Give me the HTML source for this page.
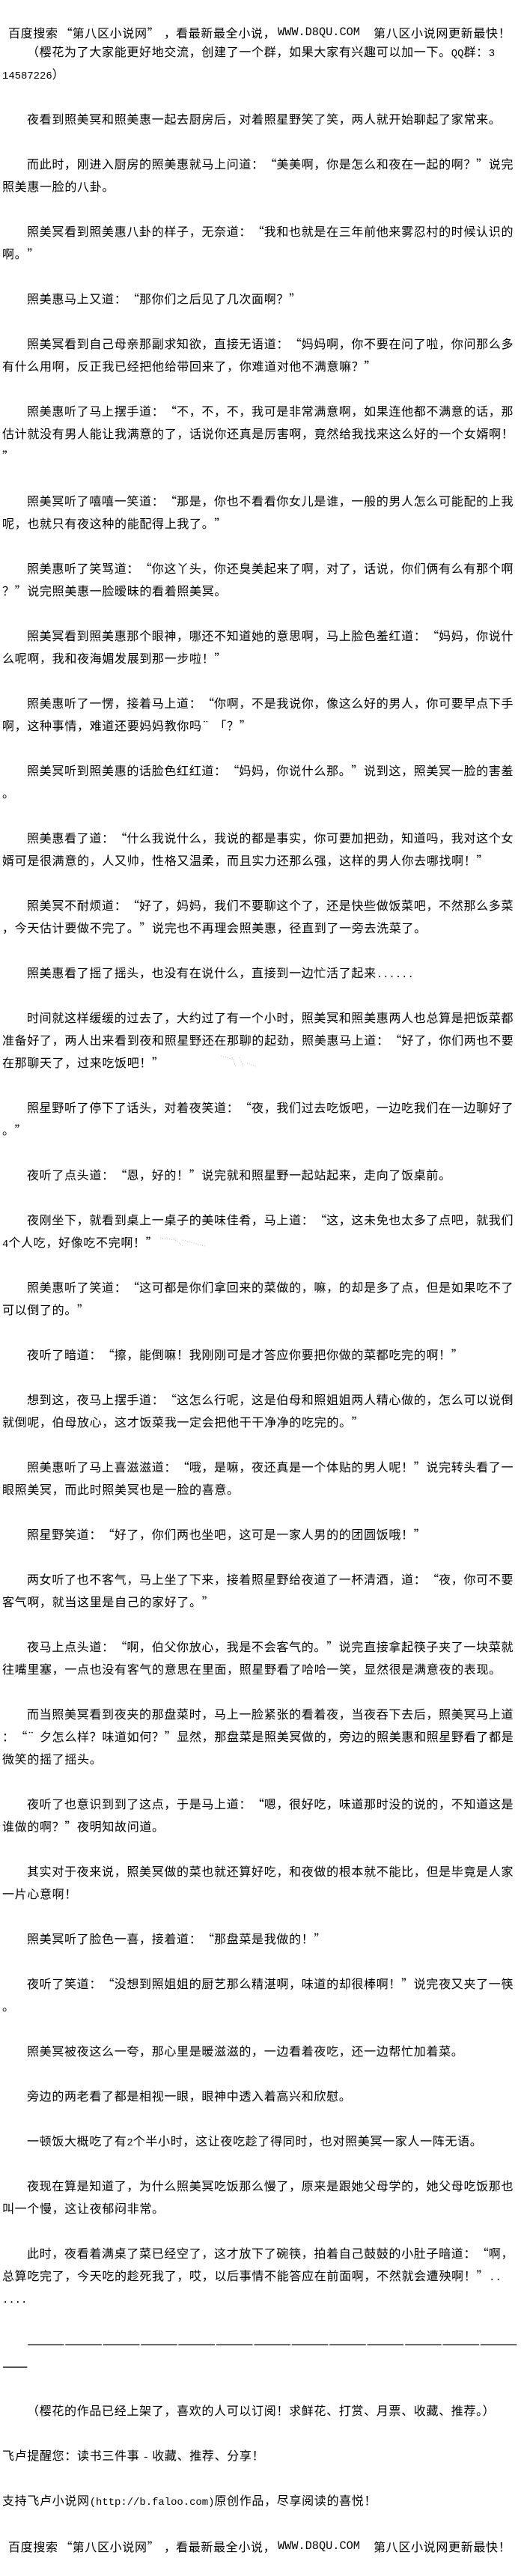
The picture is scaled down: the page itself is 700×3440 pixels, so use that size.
<!DOCTYPE html>
<html lang="zh-CN"><head><meta charset="utf-8"><title>page</title>
<style>
html,body{margin:0;padding:0;background:#fff}
body{position:relative;width:700px;height:3440px;overflow:hidden;color:#000;font-family:"WenQuanYi Zen Hei","Noto Sans CJK SC",sans-serif;font-size:16px;letter-spacing:.67px}
div{position:absolute;left:3px;height:30px;line-height:30px;white-space:pre}
div.i{left:36px}
b{font-weight:normal;font-family:"Liberation Mono",monospace;font-size:13.9px;letter-spacing:0}
i,em{font-style:normal;display:inline-block;width:16.67px;letter-spacing:0}
i{text-align:right}
em{text-align:left}
span{position:absolute;top:0}
svg{position:absolute;left:0;top:0}
.d{font-size:20.5px;letter-spacing:0;line-height:30px}
</style></head><body>
<svg width="700" height="3440"><g stroke="#b8b8b8" stroke-width="1" stroke-dasharray="1 2" fill="none"><path d="M262 1395h26M263 1391h24M295 1410l18 5M310 1412l5 13M320 1412l5 13M330 1420l12 4M214 1653l20 3M232 1654l12 10M244 1656l30 8M353 1713l40 10M355 1722l38 3M440 1475l28 6"/></g></svg>
<div style="top:28px;left:0;width:700px"><span style="left:11px">百度搜索</span><span style="left:80px"><i>“</i>第八区小说网<em>”</em></span><span style="left:219px">，</span><span style="left:235px">看最新最全小说，</span><span style="left:371px;font-family:'Liberation Mono',monospace;font-size:15.27px;letter-spacing:0">WWW.D8QU.COM</span><span style="left:499px">第八区小说网更新最快！</span></div>
<div style="top:53px;left:36px">（樱花为了大家能更好地交流，创建了一个群，如果大家有兴趣可以加一下。<b>QQ</b>群：<b>3</b></div>
<div style="top:83px"><b>14587226</b>）</div>
<div class="i" style="top:143px">夜看到照美冥和照美惠一起去厨房后，对着照星野笑了笑，两人就开始聊起了家常来。</div>
<div class="i" style="top:203px">而此时，刚进入厨房的照美惠就马上问道：<i>“</i>美美啊，你是怎么和夜在一起的啊？<em>”</em>说完</div>
<div style="top:233px">照美惠一脸的八卦。</div>
<div class="i" style="top:293px">照美冥看到照美惠八卦的样子，无奈道：<i>“</i>我和也就是在三年前他来雾忍村的时候认识的</div>
<div style="top:323px">啊。<em>”</em></div>
<div class="i" style="top:383px">照美惠马上又道：<i>“</i>那你们之后见了几次面啊？<em>”</em></div>
<div class="i" style="top:443px">照美冥看到自己母亲那副求知欲，直接无语道：<i>“</i>妈妈啊，你不要在问了啦，你问那么多</div>
<div style="top:473px">有什么用啊，反正我已经把他给带回来了，你难道对他不满意嘛？<em>”</em></div>
<div class="i" style="top:533px">照美惠听了马上摆手道：<i>“</i>不，不，不，我可是非常满意啊，如果连他都不满意的话，那</div>
<div style="top:563px">估计就没有男人能让我满意的了，话说你还真是厉害啊，竟然给我找来这么好的一个女婿啊！</div>
<div style="top:593px"><em>”</em></div>
<div class="i" style="top:653px">照美冥听了嘻嘻一笑道：<i>“</i>那是，你也不看看你女儿是谁，一般的男人怎么可能配的上我</div>
<div style="top:683px">呢，也就只有夜这种的能配得上我了。<em>”</em></div>
<div class="i" style="top:743px">照美惠听了笑骂道：<i>“</i>你这丫头，你还臭美起来了啊，对了，话说，你们俩有么有那个啊</div>
<div style="top:773px">？<em>”</em>说完照美惠一脸暧昧的看着照美冥。</div>
<div class="i" style="top:833px">照美冥看到照美惠那个眼神，哪还不知道她的意思啊，马上脸色羞红道：<i>“</i>妈妈，你说什</div>
<div style="top:863px">么呢啊，我和夜海媚发展到那一步啦！<em>”</em></div>
<div class="i" style="top:923px">照美惠听了一愣，接着马上道：<i>“</i>你啊，不是我说你，像这么好的男人，你可要早点下手</div>
<div style="top:953px">啊，这种事情，难道还要妈妈教你吗<em>¨</em>「？<em>”</em></div>
<div class="i" style="top:1013px">照美冥听到照美惠的话脸色红红道：<i>“</i>妈妈，你说什么那。<em>”</em>说到这，照美冥一脸的害羞</div>
<div style="top:1043px">。</div>
<div class="i" style="top:1103px">照美惠看了道：<i>“</i>什么我说什么，我说的都是事实，你可要加把劲，知道吗，我对这个女</div>
<div style="top:1133px">婿可是很满意的，人又帅，性格又温柔，而且实力还那么强，这样的男人你去哪找啊！<em>”</em></div>
<div class="i" style="top:1193px">照美冥不耐烦道：<i>“</i>好了，妈妈，我们不要聊这个了，还是快些做饭菜吧，不然那么多菜</div>
<div style="top:1223px">，今天估计要做不完了。<em>”</em>说完也不再理会照美惠，径直到了一旁去洗菜了。</div>
<div class="i" style="top:1283px">照美惠看了摇了摇头，也没有在说什么，直接到一边忙活了起来<b>......</b></div>
<div class="i" style="top:1343px">时间就这样缓缓的过去了，大约过了有一个小时，照美冥和照美惠两人也总算是把饭菜都</div>
<div style="top:1373px">准备好了，两人出来看到夜和照星野还在那聊的起劲，照美惠马上道：<i>“</i>好了，你们两也不要</div>
<div style="top:1403px">在那聊天了，过来吃饭吧！<em>”</em></div>
<div class="i" style="top:1463px">照星野听了停下了话头，对着夜笑道：<i>“</i>夜，我们过去吃饭吧，一边吃我们在一边聊好了</div>
<div style="top:1493px">。<em>”</em></div>
<div class="i" style="top:1553px">夜听了点头道：<i>“</i>恩，好的！<em>”</em>说完就和照星野一起站起来，走向了饭桌前。</div>
<div class="i" style="top:1613px">夜刚坐下，就看到桌上一桌子的美味佳肴，马上道：<i>“</i>这，这未免也太多了点吧，就我们</div>
<div style="top:1643px"><b>4</b>个人吃，好像吃不完啊！<em>”</em></div>
<div class="i" style="top:1703px">照美惠听了笑道：<i>“</i>这可都是你们拿回来的菜做的，嘛，的却是多了点，但是如果吃不了</div>
<div style="top:1733px">可以倒了的。<em>”</em></div>
<div class="i" style="top:1793px">夜听了暗道：<i>“</i>擦，能倒嘛！我刚刚可是才答应你要把你做的菜都吃完的啊！<em>”</em></div>
<div class="i" style="top:1853px">想到这，夜马上摆手道：<i>“</i>这怎么行呢，这是伯母和照姐姐两人精心做的，怎么可以说倒</div>
<div style="top:1883px">就倒呢，伯母放心，这才饭菜我一定会把他干干净净的吃完的。<em>”</em></div>
<div class="i" style="top:1943px">照美惠听了马上喜滋滋道：<i>“</i>哦，是嘛，夜还真是一个体贴的男人呢！<em>”</em>说完转头看了一</div>
<div style="top:1973px">眼照美冥，而此时照美冥也是一脸的喜意。</div>
<div class="i" style="top:2033px">照星野笑道：<i>“</i>好了，你们两也坐吧，这可是一家人男的的团圆饭哦！<em>”</em></div>
<div class="i" style="top:2093px">两女听了也不客气，马上坐了下来，接着照星野给夜道了一杯清酒，道：<i>“</i>夜，你可不要</div>
<div style="top:2123px">客气啊，就当这里是自己的家好了。<em>”</em></div>
<div class="i" style="top:2183px">夜马上点头道：<i>“</i>啊，伯父你放心，我是不会客气的。<em>”</em>说完直接拿起筷子夹了一块菜就</div>
<div style="top:2213px">往嘴里塞，一点也没有客气的意思在里面，照星野看了哈哈一笑，显然很是满意夜的表现。</div>
<div class="i" style="top:2273px">而当照美冥看到夜夹的那盘菜时，马上一脸紧张的看着夜，当夜吞下去后，照美冥马上道</div>
<div style="top:2303px">：<i>“</i><em>¨</em>夕怎么样？味道如何？<em>”</em>显然，那盘菜是照美冥做的，旁边的照美惠和照星野看了都是</div>
<div style="top:2333px">微笑的摇了摇头。</div>
<div class="i" style="top:2393px">夜听了也意识到到了这点，于是马上道：<i>“</i>嗯，很好吃，味道那时没的说的，不知道这是</div>
<div style="top:2423px">谁做的啊？<em>”</em>夜明知故问道。</div>
<div class="i" style="top:2483px">其实对于夜来说，照美冥做的菜也就还算好吃，和夜做的根本就不能比，但是毕竟是人家</div>
<div style="top:2513px">一片心意啊！</div>
<div class="i" style="top:2573px">照美冥听了脸色一喜，接着道：<i>“</i>那盘菜是我做的！<em>”</em></div>
<div class="i" style="top:2633px">夜听了笑道：<i>“</i>没想到照姐姐的厨艺那么精湛啊，味道的却很棒啊！<em>”</em>说完夜又夹了一筷</div>
<div style="top:2663px">。</div>
<div class="i" style="top:2723px">照美冥被夜这么一夸，那心里是暖滋滋的，一边看着夜吃，还一边帮忙加着菜。</div>
<div class="i" style="top:2783px">旁边的两老看了都是相视一眼，眼神中透入着高兴和欣慰。</div>
<div class="i" style="top:2843px">一顿饭大概吃了有<b>2</b>个半小时，这让夜吃趁了得同时，也对照美冥一家人一阵无语。</div>
<div class="i" style="top:2903px">夜现在算是知道了，为什么照美冥吃饭那么慢了，原来是跟她父母学的，她父母吃饭那也</div>
<div style="top:2933px">叫一个慢，这让夜郁闷非常。</div>
<div class="i" style="top:2993px">此时，夜看着满桌了菜已经空了，这才放下了碗筷，拍着自己鼓鼓的小肚子暗道：<i>“</i>啊，</div>
<div style="top:3023px">总算吃完了，今天吃的趁死我了，哎，以后事情不能答应在前面啊，不然就会遭殃啊！<em>”</em><b>..</b></div>
<div style="top:3053px"><b>....</b></div>
<div class="i d" style="top:3113px">———————————————————————————————————————</div>
<div class="d" style="top:3143px">——</div>
<div class="i" style="top:3203px">（樱花的作品已经上架了，喜欢的人可以订阅！求鲜花、打赏、月票、收藏、推荐。）</div>
<div style="top:3263px">飞卢提醒您：读书三件事 <b>-</b> 收藏、推荐、分享！</div>
<div style="top:3323px">支持飞卢小说网<b>(http://b.faloo.com)</b>原创作品，尽享阅读的喜悦！</div>
<div style="top:3385px;left:0;width:700px"><span style="left:11px">百度搜索</span><span style="left:80px"><i>“</i>第八区小说网<em>”</em></span><span style="left:219px">，</span><span style="left:235px">看最新最全小说，</span><span style="left:371px;font-family:'Liberation Mono',monospace;font-size:15.27px;letter-spacing:0">WWW.D8QU.COM</span><span style="left:499px">第八区小说网更新最快！</span></div>
</body></html>
